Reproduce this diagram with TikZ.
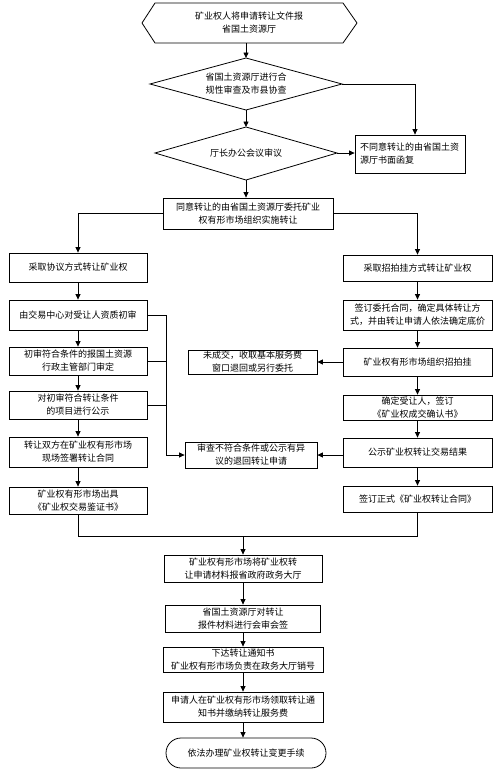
\documentclass[tikz,border=0pt]{standalone}
\usepackage{fontspec}
\newfontfamily\cjk{Noto Sans CJK SC}
\usetikzlibrary{arrows.meta,shapes.misc}
\begin{document}
\begin{tikzpicture}[x=1pt,y=-1pt,
  every node/.style={font=\cjk\fontsize{9}{13}\selectfont, inner sep=0pt},
  box/.style={draw, line width=0.8pt, align=center},
  txt/.style={align=center},
  arr/.style={line width=0.8pt, -{Triangle[length=5.5pt,width=5pt]}},
  ln/.style={line width=0.8pt}]
\useasboundingbox (0,0) rectangle (500,779);
% hexagon
\coordinate (h1) at (142,23); \coordinate (h2) at (155,3); \coordinate (h3) at (343,3);
\coordinate (h4) at (357,23); \coordinate (h5) at (343,43); \coordinate (h6) at (155,43);
\draw[ln] (h1)--(h2)--(h3)--(h4)--(h5)--(h6)--cycle;
\node[txt] (t1) at (249,23) {矿业权人将申请转让文件报\\省国土资源厅};
\coordinate (h1b) at (246,43);
% diamond 1
\coordinate (d1l) at (150,84); \coordinate (d1t) at (246,58); \coordinate (d1r) at (342,84); \coordinate (d1b) at (246,110);
\draw[ln] (d1l)--(d1t)--(d1r)--(d1b)--cycle;
\node[txt] (t2) at (246,84) {省国土资源厅进行合\\规性审查及市县协查};
% diamond 2
\coordinate (d2l) at (155,153); \coordinate (d2t) at (246,127); \coordinate (d2r) at (337,153); \coordinate (d2b) at (246,180);
\draw[ln] (d2l)--(d2t)--(d2r)--(d2b)--cycle;
\node[txt] (t3) at (246,153) {厅长办公会议审议};
% right reject box
\node[box, align=left, text width=100pt, minimum width=110, minimum height=38] (b4) at (410,154) {不同意转让的由省国土资\\源厅书面函复};
% box 5
\node[box, minimum width=170, minimum height=31] (b5) at (248,213.5) {同意转让的由省国土资源厅委托矿业\\权有形市场组织实施转让};
% left column
\node[box, minimum width=138, minimum height=29] (b6) at (78,267.5) {采取协议方式转让矿业权};
\node[box, minimum width=138, minimum height=30] (b8) at (78,315) {由交易中心对受让人资质初审};
\node[box, minimum width=138, minimum height=28] (b10) at (78,361) {初审符合条件的报国土资源\\行政主管部门审定};
\node[box, minimum width=138, minimum height=28] (b13) at (78,405) {对初审符合转让条件\\的项目进行公示};
\node[box, minimum width=138, minimum height=30] (b15) at (78,452) {转让双方在矿业权有形市场\\现场签署转让合同};
\node[box, minimum width=138, minimum height=27] (b18) at (78,500.5) {矿业权有形市场出具\\《矿业权交易鉴证书》};
% right column
\node[box, minimum width=149, minimum height=26] (b7) at (417.5,268) {采取招拍挂方式转让矿业权};
\node[box, minimum width=149, minimum height=30] (b9) at (417.5,315) {签订委托合同，确定具体转让方\\式，并由转让申请人依法确定底价};
\node[box, minimum width=149, minimum height=28] (b12) at (417.5,362) {矿业权有形市场组织招拍挂};
\node[box, minimum width=149, minimum height=25] (b14) at (417.5,407.5) {确定受让人，签订\\《矿业权成交确认书》};
\node[box, minimum width=149, minimum height=29] (b17) at (417.5,452.5) {公示矿业权转让交易结果};
\node[box, minimum width=149, minimum height=26] (b19) at (417.5,499) {签订正式《矿业权转让合同》};
% middle boxes
\node[box, minimum width=129, minimum height=24] (b11) at (252.5,362) {未成交，收取基本服务费\\窗口退回或另行委托};
\node[box, minimum width=132, minimum height=26] (b16) at (251,455) {审查不符合条件或公示有异\\议的退回转让申请};
% central column
\node[box, minimum width=158, minimum height=27] (b20) at (243,568.5) {矿业权有形市场将矿业权转\\让申请材料报省政府政务大厅};
\node[box, minimum width=155, minimum height=27] (b21) at (243,618.5) {省国土资源厅对转让\\报件材料进行会审会签};
\node[box, minimum width=160, minimum height=25] (b22) at (243,659.5) {下达转让通知书\\矿业权有形市场负责在政务大厅销号};
\node[box, minimum width=160, minimum height=30] (b23) at (243,707) {申请人在矿业权有形市场领取转让通\\知书并缴纳转让服务费};
\node[draw, line width=0.8pt, rounded rectangle, minimum width=160, minimum height=30] (b24) at (246,753) {依法办理矿业权转让变更手续};
% connectors top
\draw[arr] (h1b) -- (d1t);
\draw[arr] (d1b) -- (d2t);
\draw[arr] (d2b) -- (b5.north -| d2b);
\draw[arr] (d1r) -| ([xshift=5]b4.north);
\draw[arr] (d2r) -- (b4.west |- d2r);
\draw[arr] (b5.west) -| (b6.north);
\draw[arr] (b5.east) -| (b7.north);
% left column
\draw[arr] (b6) -- (b8);
\draw[arr] (b8) -- (b10);
\draw[arr] (b10) -- (b13);
\draw[arr] (b13) -- (b15);
\draw[arr] (b15) -- (b18);
% right column
\draw[arr] (b7) -- (b9);
\draw[arr] (b9) -- (b12);
\draw[arr] (b12) -- (b14);
\draw[arr] (b14) -- (b17);
\draw[arr] (b17) -- (b19);
\draw[arr] (b12.west) -- (b11.east |- b12.west);
\draw[arr] (b17.west |- b16.east) -- (b16.east);
% left bus
\coordinate (busT) at (166,315);
\coordinate (busB) at (166,455);
\draw[ln] (b8.east) -- (busT);
\draw[arr] (busT) -- (busB) -- (b16.west);
\draw[ln] (b10.east) -- (b10.east -| busT);
\draw[ln] (b13.east) -- (b13.east -| busT);
% bottom join
\coordinate (j) at (243,536);
\draw[ln] (b18.south) -- (b18.south |- j) -- (b19.south |- j) -- (b19.south);
\draw[arr] (j) -- (b20.north);
\draw[arr] (b20) -- (b21);
\draw[arr] (b21) -- (b22);
\draw[arr] (b22) -- (b23);
\draw[arr] (b23.south) -- (b24.north -| b23.south);
\end{tikzpicture}
\end{document}
